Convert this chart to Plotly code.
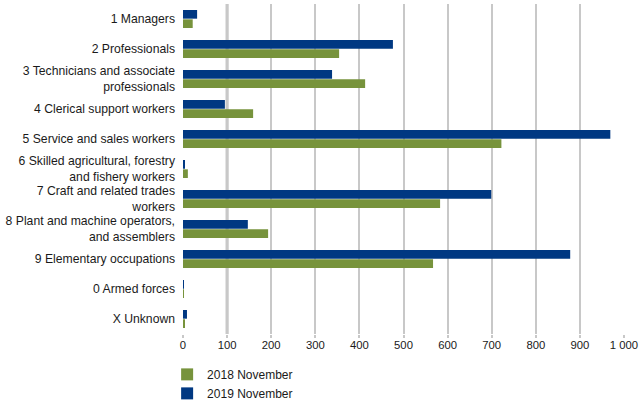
import plotly.graph_objects as go

categories = [
    "1 Managers",
    "2 Professionals",
    "3 Technicians and associate<br>professionals",
    "4 Clerical support workers",
    "5 Service and sales workers",
    "6 Skilled agricultural, forestry<br>and fishery workers",
    "7 Craft and related trades<br>workers",
    "8 Plant and machine operators,<br>and assemblers",
    "9 Elementary occupations",
    "0 Armed forces",
    "X Unknown",
]
nov_2018 = [22, 354, 413, 159, 722, 11, 583, 193, 567, 1, 4]
nov_2019 = [32, 476, 338, 95, 969, 4, 699, 147, 878, 2, 9]
x_ticks = [0, 100, 200, 300, 400, 500, 600, 700, 800, 900, 1000]

GREEN = "#77933C"
BLUE = "#003882"
GRID = "#C8C8C8"
FONT = "Liberation Sans, Arial, sans-serif"
TXT = "#1a1a1a"

fig = go.Figure()
fig.add_trace(go.Bar(y=categories, x=nov_2019, orientation="h", name="2019 November",
                     marker=dict(color=BLUE, line=dict(width=0))))
fig.add_trace(go.Bar(y=categories, x=nov_2018, orientation="h", name="2018 November",
                     marker=dict(color=GREEN, line=dict(width=0))))

fig.update_layout(
    width=639, height=403,
    margin=dict(l=183, r=15, t=4, b=69, pad=0),
    paper_bgcolor="white", plot_bgcolor="white",
    barmode="group", bargap=0.377, bargroupgap=0.07,
    font=dict(family=FONT, size=12, color=TXT),
    separators=". ",
    showlegend=True,
    legend=dict(traceorder="reversed", orientation="v", x=-0.036, xanchor="left",
                yref="container", y=0.107, yanchor="top",
                font=dict(size=12, family=FONT, color=TXT),
                itemwidth=30, tracegroupgap=0, bgcolor="rgba(0,0,0,0)"),
)
fig.update_xaxes(range=[0, 1000], tickvals=x_ticks, separatethousands=True,
                 showgrid=True, gridcolor=GRID, gridwidth=2, automargin=False,
                 ticks="outside", ticklen=3, tickcolor=GRID, tickwidth=2,
                 ticklabelstandoff=-3,
                 zeroline=False, showline=False, fixedrange=True,
                 tickfont=dict(size=11.3, family=FONT, color=TXT))
fig.update_yaxes(autorange="reversed", showgrid=False, zeroline=False, showline=False,
                 ticks="", ticklabelstandoff=7, automargin=False,
                 tickfont=dict(size=12.2, family=FONT, color=TXT))
# slightly heavier gridline at the first interval, as in the source chart
fig.add_vline(x=x_ticks[1], line=dict(color="#BDBDBD", width=3), layer="below")

fig.write_html("out.html", config={"displayModeBar": False},
               post_script="document.body.style.margin='0';")
